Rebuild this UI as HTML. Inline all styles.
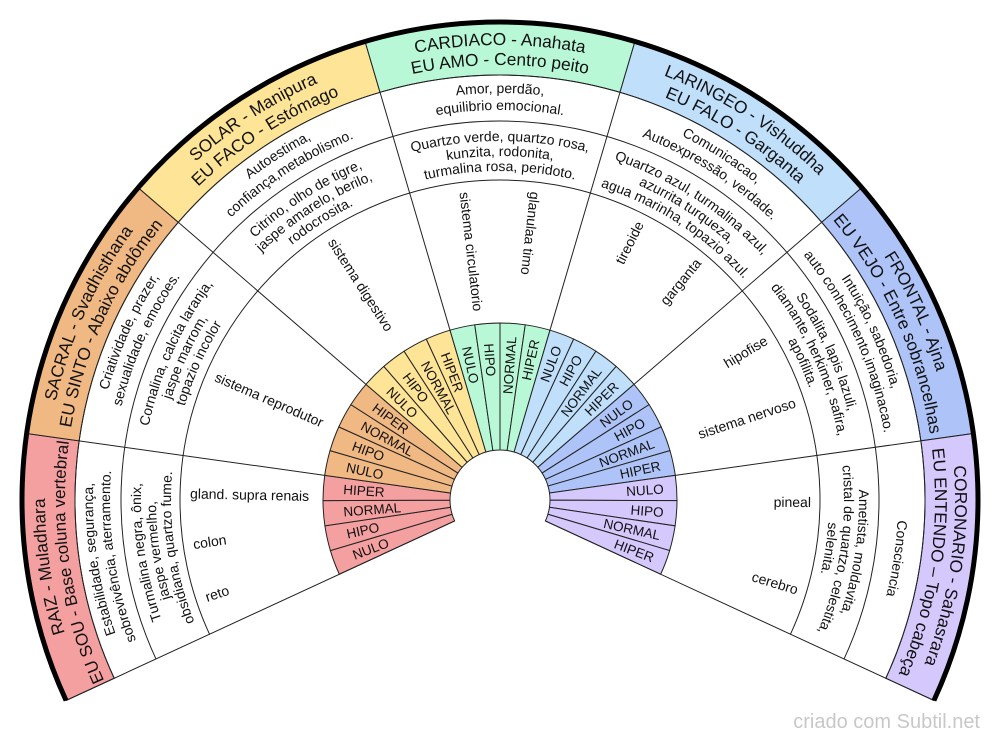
<!DOCTYPE html>
<html><head><meta charset="utf-8"><style>
html,body{margin:0;padding:0;background:#fff;}
svg{display:block;}
text{font-family:"Liberation Sans",Arial,sans-serif;fill:#111;}
</style></head><body>
<svg width="1000" height="741" viewBox="0 0 1000 741" xmlns="http://www.w3.org/2000/svg">
<defs>
<path id="is" d="M176.547,-12.655 A177,177 0 0 1 176.547,12.655 L49.872,3.575 A50,50 0 0 0 49.872,-3.575 Z"/>
<path id="bs" d="M458.55,-134.96 A478,478 0 0 1 458.55,134.96 L407.71,119.99 A425,425 0 0 0 407.71,-119.99 Z"/>
<path id="t1" d="M-348.55,-292.47 A455,455 0 0 1 348.55,-292.47"/>
<path id="t2" d="M-333.23,-279.61 A435,435 0 0 1 333.23,-279.61"/>
<path id="d1" d="M-311.78,-261.62 A407,407 0 0 1 311.78,-261.62"/>
<path id="d0" d="M-304.88,-255.83 A398,398 0 0 1 304.88,-255.83"/>
<path id="d2" d="M-298.76,-250.69 A390,390 0 0 1 298.76,-250.69"/>
<path id="s1" d="M-275.01,-230.76 A359,359 0 0 1 275.01,-230.76"/>
<path id="s2" d="M-263.52,-221.12 A344,344 0 0 1 263.52,-221.12"/>
<path id="s3" d="M-252.03,-211.48 A329,329 0 0 1 252.03,-211.48"/>
</defs>
<rect width="1000" height="741" fill="#fff"/>
<g transform="translate(500,500)">
<g stroke="#222" stroke-width="1">
<use href="#bs" transform="rotate(-188.4)" fill="#f4a0a0"/>
<use href="#bs" transform="rotate(-155.6)" fill="#f0b882"/>
<use href="#bs" transform="rotate(-122.8)" fill="#fde496"/>
<use href="#bs" transform="rotate(-90)" fill="#b9f8d6"/>
<use href="#bs" transform="rotate(-57.2)" fill="#bfdffb"/>
<use href="#bs" transform="rotate(-24.4)" fill="#aec3f7"/>
<use href="#bs" transform="rotate(8.4)" fill="#d5c8fc"/>
<use href="#is" transform="rotate(-200.7)" fill="#f4a0a0"/>
<use href="#is" transform="rotate(-192.5)" fill="#f4a0a0"/>
<use href="#is" transform="rotate(-184.3)" fill="#f4a0a0"/>
<use href="#is" transform="rotate(-176.1)" fill="#f4a0a0"/>
<use href="#is" transform="rotate(-167.9)" fill="#f0b882"/>
<use href="#is" transform="rotate(-159.7)" fill="#f0b882"/>
<use href="#is" transform="rotate(-151.5)" fill="#f0b882"/>
<use href="#is" transform="rotate(-143.3)" fill="#f0b882"/>
<use href="#is" transform="rotate(-135.1)" fill="#fde496"/>
<use href="#is" transform="rotate(-126.9)" fill="#fde496"/>
<use href="#is" transform="rotate(-118.7)" fill="#fde496"/>
<use href="#is" transform="rotate(-110.5)" fill="#fde496"/>
<use href="#is" transform="rotate(-102.3)" fill="#b9f8d6"/>
<use href="#is" transform="rotate(-94.1)" fill="#b9f8d6"/>
<use href="#is" transform="rotate(-85.9)" fill="#b9f8d6"/>
<use href="#is" transform="rotate(-77.7)" fill="#b9f8d6"/>
<use href="#is" transform="rotate(-69.5)" fill="#bfdffb"/>
<use href="#is" transform="rotate(-61.3)" fill="#bfdffb"/>
<use href="#is" transform="rotate(-53.1)" fill="#bfdffb"/>
<use href="#is" transform="rotate(-44.9)" fill="#bfdffb"/>
<use href="#is" transform="rotate(-36.7)" fill="#aec3f7"/>
<use href="#is" transform="rotate(-28.5)" fill="#aec3f7"/>
<use href="#is" transform="rotate(-20.3)" fill="#aec3f7"/>
<use href="#is" transform="rotate(-12.1)" fill="#aec3f7"/>
<use href="#is" transform="rotate(-3.9)" fill="#d5c8fc"/>
<use href="#is" transform="rotate(4.3)" fill="#d5c8fc"/>
<use href="#is" transform="rotate(12.5)" fill="#d5c8fc"/>
<use href="#is" transform="rotate(20.7)" fill="#d5c8fc"/>
</g>
<g fill="none" stroke="#222" stroke-width="1">
<path d="M-290.49,134.22 A320,320 0 1 1 290.49,134.22"/>
<path d="M-344.05,158.97 A379,379 0 1 1 344.05,158.97"/>
<path d="M-385.81,178.27 A425,425 0 1 1 385.81,178.27"/>
</g>
<g stroke="#222" stroke-width="1">
<line x1="50" y1="0" x2="478" y2="0" transform="rotate(-204.8)"/>
<line x1="177" y1="0" x2="425" y2="0" transform="rotate(-172)"/>
<line x1="177" y1="0" x2="425" y2="0" transform="rotate(-139.2)"/>
<line x1="177" y1="0" x2="425" y2="0" transform="rotate(-106.4)"/>
<line x1="177" y1="0" x2="425" y2="0" transform="rotate(-73.6)"/>
<line x1="177" y1="0" x2="425" y2="0" transform="rotate(-40.8)"/>
<line x1="177" y1="0" x2="425" y2="0" transform="rotate(-8)"/>
<line x1="50" y1="0" x2="478" y2="0" transform="rotate(24.8)"/>
</g>
<path d="M-433.92,200.50 A478,478 0 1 1 433.92,200.50" fill="none" stroke="#000" stroke-width="5"/>

<g font-size="13.5">
<text transform="rotate(-20.7)" x="-157" dy=".35em">NULO</text>
<text transform="rotate(-12.5)" x="-157" dy=".35em">HIPO</text>
<text transform="rotate(-4.3)" x="-157" dy=".35em">NORMAL</text>
<text transform="rotate(3.9)" x="-157" dy=".35em">HIPER</text>
<text transform="rotate(12.1)" x="-157" dy=".35em">NULO</text>
<text transform="rotate(20.3)" x="-157" dy=".35em">HIPO</text>
<text transform="rotate(28.5)" x="-157" dy=".35em">NORMAL</text>
<text transform="rotate(36.7)" x="-157" dy=".35em">HIPER</text>
<text transform="rotate(44.9)" x="-157" dy=".35em">NULO</text>
<text transform="rotate(53.1)" x="-157" dy=".35em">HIPO</text>
<text transform="rotate(61.3)" x="-157" dy=".35em">NORMAL</text>
<text transform="rotate(69.5)" x="-157" dy=".35em">HIPER</text>
<text transform="rotate(77.7)" x="-157" dy=".35em">NULO</text>
<text transform="rotate(85.9)" x="-157" dy=".35em">HIPO</text>
<g text-anchor="end">
<text transform="rotate(-85.9)" x="164" dy=".35em">NORMAL</text>
<text transform="rotate(-77.7)" x="164" dy=".35em">HIPER</text>
<text transform="rotate(-69.5)" x="164" dy=".35em">NULO</text>
<text transform="rotate(-61.3)" x="164" dy=".35em">HIPO</text>
<text transform="rotate(-53.1)" x="164" dy=".35em">NORMAL</text>
<text transform="rotate(-44.9)" x="164" dy=".35em">HIPER</text>
<text transform="rotate(-36.7)" x="164" dy=".35em">NULO</text>
<text transform="rotate(-28.5)" x="164" dy=".35em">HIPO</text>
<text transform="rotate(-20.3)" x="164" dy=".35em">NORMAL</text>
<text transform="rotate(-12.1)" x="164" dy=".35em">HIPER</text>
<text transform="rotate(-3.9)" x="164" dy=".35em">NULO</text>
<text transform="rotate(4.3)" x="164" dy=".35em">HIPO</text>
<text transform="rotate(12.5)" x="164" dy=".35em">NORMAL</text>
<text transform="rotate(20.7)" x="164" dy=".35em">HIPER</text>
</g>
</g>

<g font-size="14">
<text transform="rotate(1.2)" x="-310" dy=".35em">gland. supra renais</text>
<text transform="rotate(-8.2)" x="-310" dy=".35em">colon</text>
<text transform="rotate(-18.3)" x="-310" dy=".35em">reto</text>
<text transform="rotate(23.5)" x="-310" dy=".35em">sistema reprodutor</text>
<text transform="rotate(57.1)" x="-310" dy=".35em">sistema digestivo</text>
<text transform="rotate(83.4)" x="-310" dy=".35em">sistema circulatorio</text>
<text transform="rotate(96.5)" x="-310" dy=".35em">glanulaa timo</text>
<g text-anchor="end">
<text transform="rotate(-63.3)" x="311" dy=".35em">tireoide</text>
<text transform="rotate(-50.4)" x="311" dy=".35em">garganta</text>
<text transform="rotate(-31.1)" x="311" dy=".35em">hipofise</text>
<text transform="rotate(-18.3)" x="311" dy=".35em">sistema nervoso</text>
<text transform="rotate(0.4)" x="311" dy=".35em">pineal</text>
<text transform="rotate(16.8)" x="311" dy=".35em">cerebro</text>
</g>
</g>

<g text-anchor="middle">
<g transform="rotate(-98.4)">
<text font-size="17.3"><textPath href="#t1" startOffset="50%">RAIZ - Muladhara</textPath></text>
<text font-size="17"><textPath href="#t2" startOffset="50%">EU SOU - Base coluna vertebral</textPath></text>
<text font-size="14"><textPath href="#d1" startOffset="50%">Estabilidade, segurança,</textPath></text>
<text font-size="14"><textPath href="#d2" startOffset="50%">sobrevivência, aterramento.</textPath></text>
<text font-size="14"><textPath href="#s1" startOffset="50%">Turmalina negra, ônix,</textPath></text>
<text font-size="14"><textPath href="#s2" startOffset="50%">jaspe vermelho,</textPath></text>
<text font-size="14"><textPath href="#s3" startOffset="50%">obsidiana, quartzo fume.</textPath></text>
</g>
<g transform="rotate(-65.6)">
<text font-size="17.3"><textPath href="#t1" startOffset="50%">SACRAL - Svadhisthana</textPath></text>
<text font-size="17.3"><textPath href="#t2" startOffset="50%">EU SINTO - Abaixo abdômen</textPath></text>
<text font-size="14"><textPath href="#d1" startOffset="50%">Criatividade, prazer,</textPath></text>
<text font-size="14"><textPath href="#d2" startOffset="50%">sexualidade, emocoes.</textPath></text>
<text font-size="14"><textPath href="#s1" startOffset="50%">Cornalina, calcita laranja,</textPath></text>
<text font-size="14"><textPath href="#s2" startOffset="50%">jaspe marrom,</textPath></text>
<text font-size="14"><textPath href="#s3" startOffset="50%">topazio incolor</textPath></text>
</g>
<g transform="rotate(-32.8)">
<text font-size="17.3"><textPath href="#t1" startOffset="50%">SOLAR - Manipura</textPath></text>
<text font-size="17.3"><textPath href="#t2" startOffset="50%">EU FACO - Estómago</textPath></text>
<text font-size="14"><textPath href="#d1" startOffset="50%">Autoestima,</textPath></text>
<text font-size="14"><textPath href="#d2" startOffset="50%">confiança,metabolismo.</textPath></text>
<text font-size="14"><textPath href="#s1" startOffset="50%">Citrino, olho de tigre,</textPath></text>
<text font-size="14"><textPath href="#s2" startOffset="50%">jaspe amarelo, berilo,</textPath></text>
<text font-size="14"><textPath href="#s3" startOffset="50%">rodocrosita.</textPath></text>
</g>
<g>
<text font-size="17.3"><textPath href="#t1" startOffset="50%">CARDIACO - Anahata</textPath></text>
<text font-size="17.3"><textPath href="#t2" startOffset="50%">EU AMO - Centro peito</textPath></text>
<text font-size="14"><textPath href="#d1" startOffset="50%">Amor, perdão,</textPath></text>
<text font-size="14"><textPath href="#d2" startOffset="50%">equilibrio emocional.</textPath></text>
<text font-size="14"><textPath href="#s1" startOffset="50%">Quartzo verde, quartzo rosa,</textPath></text>
<text font-size="14"><textPath href="#s2" startOffset="50%">kunzita, rodonita,</textPath></text>
<text font-size="14"><textPath href="#s3" startOffset="50%">turmalina rosa, peridoto.</textPath></text>
</g>
<g transform="rotate(32.8)">
<text font-size="17.3"><textPath href="#t1" startOffset="50%">LARINGEO - Vishuddha</textPath></text>
<text font-size="17.3"><textPath href="#t2" startOffset="50%">EU FALO - Garganta</textPath></text>
<text font-size="14"><textPath href="#d1" startOffset="50%">Comunicacao,</textPath></text>
<text font-size="14"><textPath href="#d2" startOffset="50%">Autoexpressão, verdade.</textPath></text>
<text font-size="14"><textPath href="#s1" startOffset="50%">Quartzo azul, turmalina azul,</textPath></text>
<text font-size="14"><textPath href="#s2" startOffset="50%">azurrita turqueza,</textPath></text>
<text font-size="14"><textPath href="#s3" startOffset="50%">agua marinha, topazio azul.</textPath></text>
</g>
<g transform="rotate(65.6)">
<text font-size="17.3"><textPath href="#t1" startOffset="50%">FRONTAL - Ajna</textPath></text>
<text font-size="17.3"><textPath href="#t2" startOffset="50%">EU VEJO - Entre sobrancelhas</textPath></text>
<text font-size="14"><textPath href="#d1" startOffset="50%">Intuição, sabedoria,</textPath></text>
<text font-size="14"><textPath href="#d2" startOffset="50%">auto conhecimento,imaginacao.</textPath></text>
<text font-size="14"><textPath href="#s1" startOffset="50%">Sodalita, lapis lazuli,</textPath></text>
<text font-size="14"><textPath href="#s2" startOffset="50%">diamante, herkimer, safira,</textPath></text>
<text font-size="14"><textPath href="#s3" startOffset="50%">apofilita.</textPath></text>
</g>
<g transform="rotate(98.4)">
<text font-size="17.3"><textPath href="#t1" startOffset="50%">CORONARIO - Sahasrara</textPath></text>
<text font-size="17.3"><textPath href="#t2" startOffset="50%">EU ENTENDO – Topo cabeça</textPath></text>
<text font-size="14"><textPath href="#d0" startOffset="50%">Consciencia</textPath></text>
<text font-size="14"><textPath href="#s1" startOffset="50%">Ametista, moldavita,</textPath></text>
<text font-size="14"><textPath href="#s2" startOffset="50%">cristal de quartzo, celestita,</textPath></text>
<text font-size="14"><textPath href="#s3" startOffset="50%">selenita.</textPath></text>
</g>
</g>
</g>
<text x="980" y="728" text-anchor="end" font-size="20" style="fill:#c8c8c8">criado com Subtil.net</text>
</svg>
</body></html>
